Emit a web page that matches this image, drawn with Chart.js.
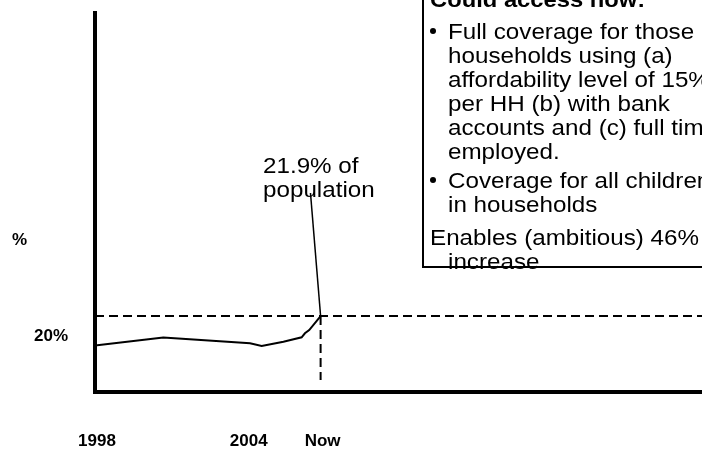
<!DOCTYPE html>
<html>
<head>
<meta charset="utf-8">
<script src="https://cdn.jsdelivr.net/npm/chart.js@4.4.1/dist/chart.umd.min.js"></script>
<style>
  html, body { margin: 0; padding: 0; background: #fff; }
  #chart { display: block; }
</style>
</head>
<body>
<canvas id="chart" width="702" height="450"></canvas>
<script>
// coverage as % of population over time
const years = [1998, 2000.7, 2004.13, 2004.59, 2005.45, 2006.17, 2006.3, 2006.47, 2006.92];
const coverage = [19.1, 19.86, 19.31, 19.05, 19.46, 19.88, 20.26, 20.57, 21.9];

const nowYear = 2006.92;
const nowValue = 21.9;

const xTickValues = [1998, 2004, nowYear];
const xTickLabels = ["1998", "2004", "Now"];
const yTickValues = [20];
const yTickLabels = ["20%"];

// where the callout pointer ends and the dropped guide stops
const pointerEnd = { x: 2006.52, y: 33.59 };
const guideBottom = 15.82;

const calloutTitle = "Could access now:";
const calloutBullets = [
  ["Full coverage for those", "households using (a)", "affordability level of 15%",
   "per HH (b) with bank", "accounts and (c) full time", "employed."],
  ["Coverage for all children", "in households"]
];
const calloutFooter = ["Enables (ambitious) 46%", "increase"];
const pointerLabel = ["21.9% of", "population"];

const FONT = '"Liberation Sans", Arial, sans-serif';
Chart.defaults.font.family = FONT;
Chart.defaults.color = "#000";

// text in this deck is a little wide, so stretch it sideways
function wideText(ctx, text, x, y, sx) {
  ctx.save();
  ctx.translate(x, y);
  ctx.scale(sx, 1);
  ctx.fillText(text, 0, 0);
  ctx.restore();
}

const notes = {
  id: "notes",
  afterDraw(chart) {
    const ctx = chart.ctx;
    ctx.save();
    ctx.fillStyle = "#000";
    ctx.textBaseline = "alphabetic";
    ctx.textAlign = "left";

    // axis unit
    ctx.font = "bold 17px " + FONT;
    ctx.textBaseline = "middle";
    ctx.fillText("%", 12, 240);
    ctx.textBaseline = "alphabetic";

    // pointer label
    ctx.font = "22px " + FONT;
    wideText(ctx, pointerLabel[0], 263, 173, 1.1);
    wideText(ctx, pointerLabel[1], 263, 197, 1.1);

    // callout box text
    ctx.font = "bold 22px " + FONT;
    wideText(ctx, calloutTitle, 430, 7, 1.08);

    ctx.font = "22px " + FONT;
    let y = 39;
    calloutBullets.forEach((lines, i) => {
      if (i > 0) y += 5;
      ctx.beginPath();
      ctx.arc(433, y - 8, 3, 0, Math.PI * 2);
      ctx.fill();
      lines.forEach(line => {
        wideText(ctx, line, 448, y, 1.1);
        y += 24;
      });
    });
    wideText(ctx, calloutFooter[0], 430, 245, 1.1);
    wideText(ctx, calloutFooter[1], 448, 269, 1.1);

    // box outline (top and right run off the page)
    ctx.strokeStyle = "#000";
    ctx.lineWidth = 2;
    ctx.strokeRect(423, -10, 300, 277);
    ctx.restore();
  }
};

new Chart(document.getElementById("chart"), {
  type: "line",
  data: {
    datasets: [
      {
        data: years.map((x, i) => ({ x, y: coverage[i] })),
        borderColor: "#000",
        borderWidth: 2,
        pointRadius: 0,
        tension: 0
      },
      {
        // level reached now, carried across
        data: [{ x: 1998, y: nowValue }, { x: 2022, y: nowValue }],
        borderColor: "#000",
        borderWidth: 2,
        borderDash: [9, 5],
        pointRadius: 0
      },
      {
        data: [{ x: nowYear, y: nowValue }, { x: nowYear, y: guideBottom }],
        borderColor: "#000",
        borderWidth: 2,
        borderDash: [9, 5],
        pointRadius: 0
      },
      {
        data: [{ x: nowYear, y: nowValue }, pointerEnd],
        borderColor: "#000",
        borderWidth: 1.5,
        pointRadius: 0
      }
    ]
  },
  options: {
    responsive: false,
    animation: false,
    layout: { padding: { top: 13, right: 0, bottom: 0, left: 0 } },
    plugins: { legend: { display: false }, tooltip: { enabled: false } },
    scales: {
      x: {
        type: "linear",
        min: 1998,
        max: 2022,
        grid: { display: false, drawTicks: false, tickLength: 0 },
        border: { display: true, color: "#000", width: 4 },
        afterBuildTicks: s => { s.ticks = xTickValues.map(v => ({ value: v })); },
        afterFit: s => { s.height = 58; s.paddingLeft = 0; s.paddingRight = 0; },
        ticks: {
          padding: 39,
          labelOffset: 2,
          maxRotation: 0,
          autoSkip: false,
          font: { size: 17, weight: "bold" },
          callback: (v, i) => xTickLabels[i]
        }
      },
      y: {
        min: 14.68,
        max: 50.69,
        grid: { display: false, drawTicks: false, tickLength: 0 },
        border: { display: true, color: "#000", width: 4 },
        afterBuildTicks: s => { s.ticks = yTickValues.map(v => ({ value: v })); },
        afterFit: s => { s.width = 95; s.paddingTop = 0; s.paddingBottom = 0; },
        ticks: {
          padding: 27,
          font: { size: 17, weight: "bold" },
          callback: (v, i) => yTickLabels[i]
        }
      }
    }
  },
  plugins: [notes]
});
</script>
</body>
</html>
